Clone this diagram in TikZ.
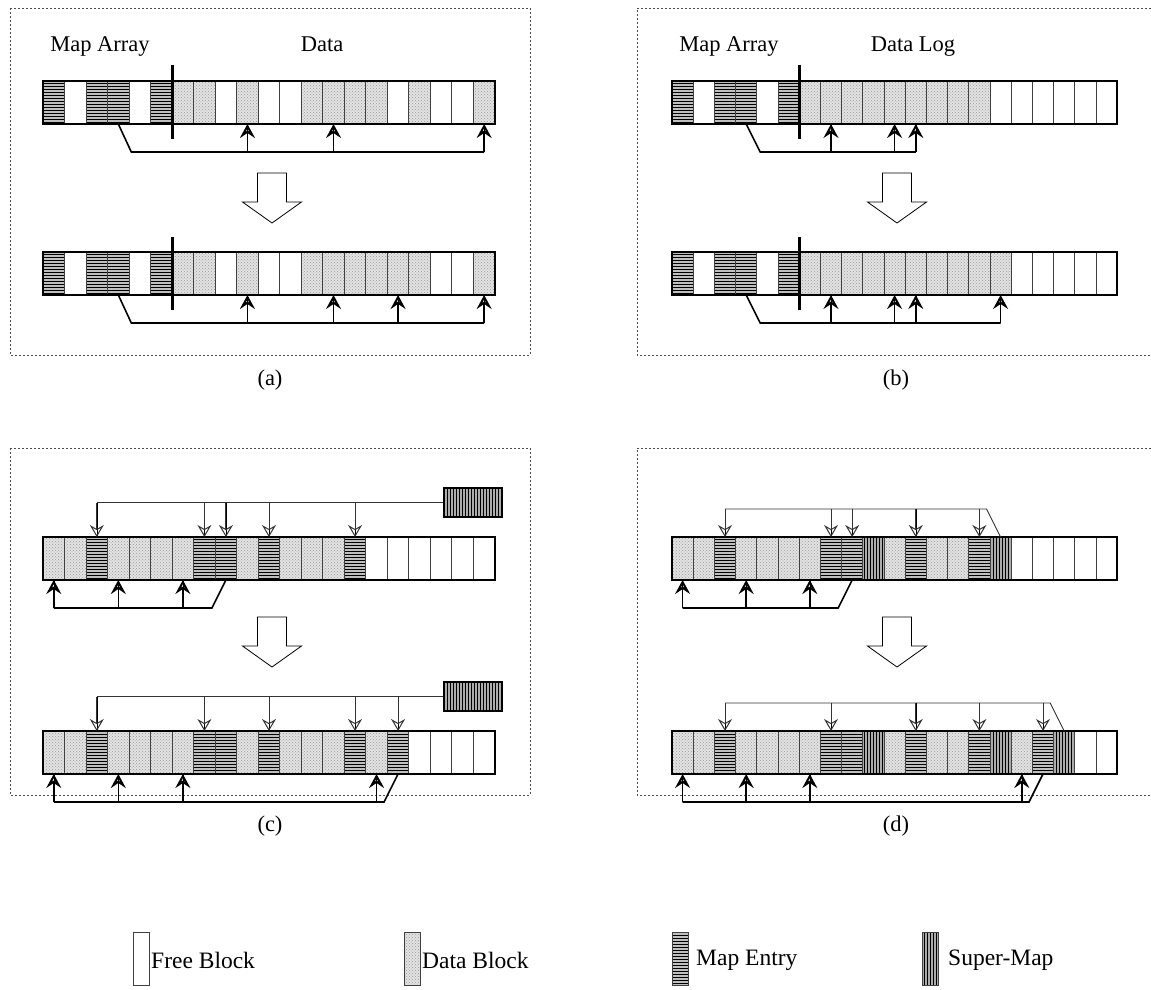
\documentclass[tikz,border=0pt]{standalone}
\usepackage{fontspec}
\setmainfont{Liberation Serif}
\usetikzlibrary{arrows.meta,patterns,calc}

\newcommand\cellrow[5]{%
  \foreach \t [count=\i] in {#5} {
    \node[cell\t,minimum width=#4pt] (#1-\i) at ({#2+(\i-1)*#4},#3) {};
  }
  \draw[barframe] (#1-1.north west) rectangle (#1-21.south east);
}
\newcommand\bigdown[2]{%
  \draw[bigarrow] (#1-14.5,#2) -- (#1+14.5,#2) -- (#1+14.5,#2+29) -- (#1+29.5,#2+29)
    -- (#1,#2+50) -- (#1-29.5,#2+29) -- (#1-14.5,#2+29) -- cycle;
}

\begin{document}
\begin{tikzpicture}[x=1pt,y=-1pt,
  cellbase/.style={draw=black!75,line width=0.8pt,minimum height=43pt,inner sep=0pt,outer sep=0pt,anchor=north west},
  cellF/.style={cellbase,fill=white},
  cellD/.style={cellbase,preaction={fill=gray!22},pattern=crosshatch dots,pattern color=gray!80},
  cellM/.style={cellbase,preaction={fill=gray!50},pattern=horizontal lines,pattern color=black},
  cellS/.style={cellbase,preaction={fill=gray!65},pattern=vertical lines,pattern color=black},
  smbox/.style={draw=black,line width=1.2pt,minimum width=58pt,minimum height=29pt,inner sep=0pt,
    preaction={fill=gray!65},pattern=vertical lines,pattern color=black},
  barframe/.style={draw=black,line width=1.8pt},
  divider/.style={line width=3pt},
  mainline/.style={line width=1.6pt},
  uparrow/.style={line width=1.6pt,preaction={draw,-},-{Stealth[open,length=14pt,width=15pt,inset=5pt,line width=2pt]}},
  thinline/.style={line width=0.9pt,draw=black!80},
  downarrow/.style={thinline,preaction={draw,-},-{Stealth[open,length=12pt,width=14pt,inset=4pt,line width=1pt]}},
  panelframe/.style={draw=black!70,line width=0.7pt,dash pattern=on 2pt off 2pt},
  lbl/.style={font=\fontsize{22.5}{26}\selectfont,inner sep=0pt},
  leglbl/.style={font=\fontsize{23.5}{27}\selectfont,inner sep=0pt,anchor=west},
  bigarrow/.style={draw=black,line width=0.8pt,fill=white},
  legbox/.style={minimum width=16pt,minimum height=53pt},
]
\useasboundingbox (0,0) rectangle (1151,990);

% frames
\draw[panelframe] (10,8) rectangle (530,355);
\draw[panelframe] (1151,8) -- (637,8) -- (637,355) -- (1151,355);
\draw[panelframe] (10,448) rectangle (530,795);
\draw[panelframe] (1151,448) -- (637,448) -- (637,795) -- (1151,795);

% ---------------- panel (a)
\node[lbl,anchor=base] (ta1) at (100,52) {Map Array};
\node[lbl,anchor=base] (ta2) at (322,52) {Data};
\cellrow{a1}{43}{81}{21.52}{M,F,M,M,F,M,D,D,F,D,F,F,D,D,D,D,F,D,F,F,D}
\draw[divider] ($(a1-6.north east)+(0,-16)$) -- ($(a1-6.south east)+(0,15)$);
\coordinate (a1k) at ($(a1-4.south)+(13,28)$);
\draw[mainline] (a1-4.south) -- (a1k) -- (a1k -| a1-21.south);
\foreach \k in {10,14,21} \draw[uparrow] (a1k -| a1-\k.south) -- (a1-\k.south);
\bigdown{272}{173}
\cellrow{a2}{43}{252}{21.52}{M,F,M,M,F,M,D,D,F,D,F,F,D,D,D,D,D,D,F,F,D}
\draw[divider] ($(a2-6.north east)+(0,-15)$) -- ($(a2-6.south east)+(0,15)$);
\coordinate (a2k) at ($(a2-4.south)+(13,28)$);
\draw[mainline] (a2-4.south) -- (a2k) -- (a2k -| a2-21.south);
\foreach \k in {10,14,17,21} \draw[uparrow] (a2k -| a2-\k.south) -- (a2-\k.south);
\node[lbl] (la) at (270,380) {(a)};

% ---------------- panel (b)
\node[lbl,anchor=base] (tb1) at (729,52) {Map Array};
\node[lbl,anchor=base] (tb2) at (913,52) {Data Log};
\cellrow{b1}{672}{81}{21.2}{M,F,M,M,F,M,D,D,D,D,D,D,D,D,D,F,F,F,F,F,F}
\draw[divider] ($(b1-6.north east)+(0,-16)$) -- ($(b1-6.south east)+(0,15)$);
\coordinate (b1k) at ($(b1-4.south)+(14,28)$);
\draw[mainline] (b1-4.south) -- (b1k) -- (b1k -| b1-12.south);
\foreach \k in {8,11,12} \draw[uparrow] (b1k -| b1-\k.south) -- (b1-\k.south);
\bigdown{897}{173}
\cellrow{b2}{672}{252}{21.2}{M,F,M,M,F,M,D,D,D,D,D,D,D,D,D,D,F,F,F,F,F}
\draw[divider] ($(b2-6.north east)+(0,-15)$) -- ($(b2-6.south east)+(0,15)$);
\coordinate (b2k) at ($(b2-4.south)+(14,28)$);
\draw[mainline] (b2-4.south) -- (b2k) -- (b2k -| b2-16.south);
\foreach \k in {8,11,12,16} \draw[uparrow] (b2k -| b2-\k.south) -- (b2-\k.south);
\node[lbl] (lb) at (896,380) {(b)};

% ---------------- panel (c)
\node[smbox] (c1s) at (473,502.5) {};
\cellrow{c1}{43}{537}{21.52}{D,D,M,D,D,D,D,M,M,D,M,D,D,D,M,F,F,F,F,F,F}
\draw[thinline] (c1s.west) -- (c1s.west -| c1-3.north);
\foreach \k in {3,8,9,11,15} \draw[downarrow] (c1s.west -| c1-\k.north) -- (c1-\k.north);
\coordinate (c1k) at ($(c1-9.south)+(-14,28)$);
\draw[mainline] (c1-9.south) -- (c1k) -- (c1k -| c1-1.south);
\foreach \k in {1,4,7} \draw[uparrow] (c1k -| c1-\k.south) -- (c1-\k.south);
\bigdown{272}{617}
\node[smbox] (c2s) at (473,696.5) {};
\cellrow{c2}{43}{731}{21.52}{D,D,M,D,D,D,D,M,M,D,M,D,D,D,M,D,M,F,F,F,F}
\draw[thinline] (c2s.west) -- (c2s.west -| c2-3.north);
\foreach \k in {3,8,11,15,17} \draw[downarrow] (c2s.west -| c2-\k.north) -- (c2-\k.north);
\coordinate (c2k) at ($(c2-17.south)+(-14,28)$);
\draw[mainline] (c2-17.south) -- (c2k) -- (c2k -| c2-1.south);
\foreach \k in {1,4,7,16} \draw[uparrow] (c2k -| c2-\k.south) -- (c2-\k.south);
\node[lbl] (lc) at (270,826) {(c)};

% ---------------- panel (d)
\cellrow{d1}{672}{537}{21.2}{D,D,M,D,D,D,D,M,M,S,D,M,D,D,M,S,F,F,F,F,F}
\coordinate (d1t) at ($(d1-16.north)+(-14,-28)$);
\draw[thinline] (d1-16.north) -- (d1t) -- (d1t -| d1-3.north);
\foreach \k in {3,8,9,12,15} \draw[downarrow] (d1t -| d1-\k.north) -- (d1-\k.north);
\coordinate (d1k) at ($(d1-9.south)+(-14,28)$);
\draw[mainline] (d1-9.south) -- (d1k) -- (d1k -| d1-1.south);
\foreach \k in {1,4,7} \draw[uparrow] (d1k -| d1-\k.south) -- (d1-\k.south);
\bigdown{897}{617}
\cellrow{d2}{672}{731}{21.2}{D,D,M,D,D,D,D,M,M,S,D,M,D,D,M,S,D,M,S,F,F}
\coordinate (d2t) at ($(d2-19.north)+(-14,-28)$);
\draw[thinline] (d2-19.north) -- (d2t) -- (d2t -| d2-3.north);
\foreach \k in {3,8,12,15,18} \draw[downarrow] (d2t -| d2-\k.north) -- (d2-\k.north);
\coordinate (d2k) at ($(d2-18.south)+(-14,28)$);
\draw[mainline] (d2-18.south) -- (d2k) -- (d2k -| d2-1.south);
\foreach \k in {1,4,7,17} \draw[uparrow] (d2k -| d2-\k.south) -- (d2-\k.south);
\node[lbl] (ld) at (896,826) {(d)};

% ---------------- legend
\node[cellF,legbox,anchor=center] (kF) at (141,958.5) {};
\node[leglbl] (kFt) at (151,960) {Free Block};
\node[cellD,legbox,anchor=center] (kD) at (412,958.5) {};
\node[leglbl] (kDt) at (422,960) {Data Block};
\node[cellM,legbox,anchor=center] (kM) at (680,958.5) {};
\node[leglbl] (kMt) at (696,960) {Map Entry};
\node[cellS,legbox,anchor=center] (kS) at (930,958.5) {};
\node[leglbl] (kSt) at (948,960) {Super-Map};
\end{tikzpicture}
\end{document}
